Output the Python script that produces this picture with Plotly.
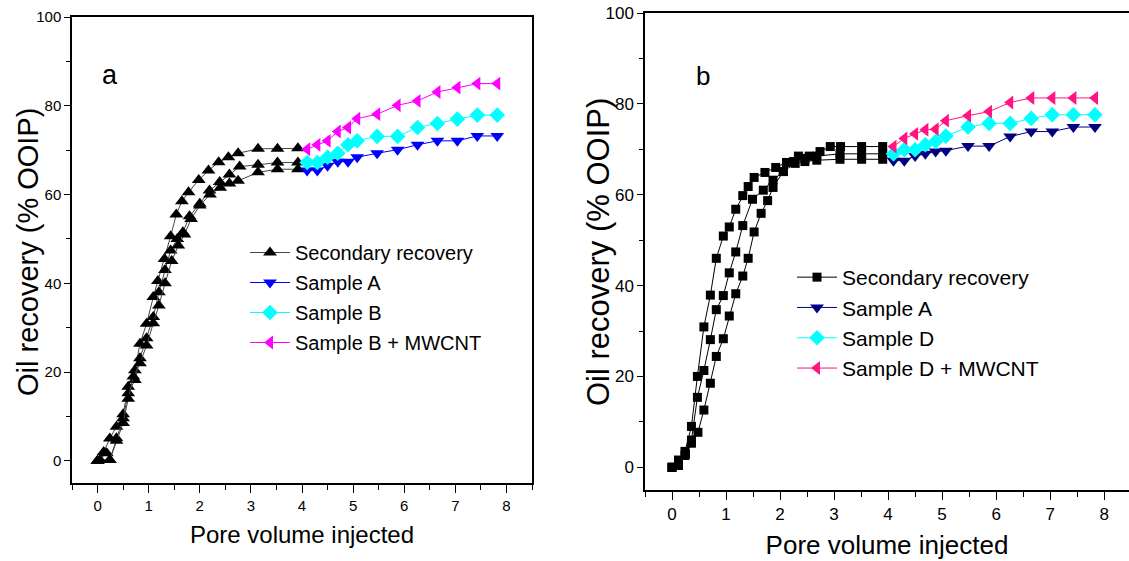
import plotly.graph_objects as go

# ---------------- Panel a data ----------------
a_sec1_x = [0, 0.12, 0.24, 0.37, 0.5, 0.6, 0.73, 0.83, 0.96, 1.09, 1.18, 1.31, 1.43, 1.54, 1.65, 1.78, 1.98, 2.17, 2.37, 2.56, 2.75, 3.14, 3.52, 3.92]
a_sec1_y = [0, 2, 5, 7.7, 10.5, 16.7, 20.4, 26.4, 30.9, 36.9, 40.5, 45.5, 50.6, 55.5, 58.5, 60.5, 63.3, 65.4, 67.3, 68.4, 69.3, 70.3, 70.3, 70.4]
a_sec2_x = [0, 0.18, 0.24, 0.37, 0.5, 0.6, 0.73, 0.83, 0.96, 1.09, 1.2, 1.32, 1.43, 1.56, 1.67, 1.8, 2.0, 2.19, 2.39, 2.58, 2.78, 3.14, 3.52, 3.92]
a_sec2_y = [0, 1.7, 0.2, 5.1, 9.6, 15.2, 18.2, 23.1, 27.6, 32.4, 38, 43, 47.4, 50, 51.5, 55.1, 57.9, 60.9, 62.8, 64.5, 66.3, 66.7, 67.2, 67.2]
a_sec3_x = [0, 0.05, 0.24, 0.37, 0.5, 0.6, 0.7, 0.83, 0.96, 1.09, 1.2, 1.32, 1.45, 1.58, 1.7, 1.83, 2.0, 2.2, 2.4, 2.58, 2.75, 3.14, 3.52, 3.92]
a_sec3_y = [0, 0.2, 0.2, 4.5, 8.5, 14, 19, 22, 26, 31, 35, 40, 45, 48.5, 51, 54.5, 57.5, 60, 61.5, 62.5, 63.1, 65, 65.7, 65.7]

a_samp_x = [4.1, 4.3, 4.5, 4.7, 4.9, 5.08, 5.47, 5.87, 6.26, 6.65, 7.04, 7.43, 7.82]
a_sampleA = [65.4, 65.4, 66.5, 67.4, 67.4, 68.4, 69.3, 70.1, 71.2, 72.1, 72.1, 73.2, 73.2]
a_sampleB = [67.2, 67.2, 68.4, 69.3, 71.2, 72.1, 73.1, 73.1, 75.1, 76.0, 77.0, 77.9, 77.9]
a_sampleB_mw = [70.2, 71.2, 72.1, 74.2, 75.1, 77.1, 78.1, 80.1, 81.1, 83.1, 84.1, 85.0, 85.0]

# ---------------- Panel b data ----------------
b_sec1_x = [0, 0.12, 0.24, 0.36, 0.47, 0.59, 0.71, 0.82, 0.95, 1.06, 1.18, 1.31, 1.41, 1.52, 1.72, 1.92, 2.12, 2.34, 2.54, 2.74, 2.93, 3.12, 3.51, 3.9]
b_sec1_y = [0, 1.6, 3.5, 9.0, 20.0, 30.9, 37.9, 46.0, 50.9, 52.9, 56.8, 59.8, 61.8, 63.8, 64.9, 66.0, 67.1, 68.5, 68.5, 69.5, 70.6, 70.6, 70.6, 70.6]
b_sec2_x = [0, 0.12, 0.24, 0.36, 0.47, 0.59, 0.71, 0.82, 0.95, 1.06, 1.18, 1.31, 1.49, 1.69, 1.87, 2.06, 2.25, 2.46, 2.68, 3.11, 3.51, 3.9]
b_sec2_y = [0, 0.7, 2.6, 6.0, 15.4, 21.3, 28.1, 34.7, 37.8, 42.8, 47.4, 53.2, 59.0, 61.0, 63.2, 65.1, 67.3, 68.0, 68.5, 69.0, 69.0, 69.0]
b_sec3_x = [0, 0.12, 0.25, 0.36, 0.48, 0.59, 0.71, 0.82, 0.95, 1.06, 1.18, 1.31, 1.41, 1.52, 1.65, 1.77, 1.87, 2.06, 2.28, 2.46, 2.68, 3.11, 3.51, 3.9]
b_sec3_y = [0, 0.4, 2.9, 5.3, 7.7, 12.6, 18.5, 24.4, 28.3, 33.3, 38.2, 42.1, 46.0, 51.8, 55.9, 58.7, 61.6, 65.1, 66.9, 67.3, 67.6, 67.8, 67.8, 67.8]

b_samp_x = [4.1, 4.3, 4.5, 4.69, 4.88, 5.07, 5.48, 5.87, 6.26, 6.65, 7.04, 7.43, 7.83]
b_sampleA = [67.5, 67.5, 68.5, 69.0, 69.5, 69.7, 70.7, 70.7, 72.8, 73.9, 73.9, 74.9, 74.9]
b_sampleD = [69.0, 69.9, 69.9, 71.0, 71.7, 72.9, 74.9, 75.7, 75.7, 76.8, 77.6, 77.6, 77.6]
b_sampleD_mw = [70.6, 72.4, 73.4, 74.3, 74.4, 76.3, 77.4, 78.3, 80.3, 81.3, 81.3, 81.3, 81.3]

x_ticks = [0, 1, 2, 3, 4, 5, 6, 7, 8]
y_ticks = [0, 20, 40, 60, 80, 100]

FONT = "Liberation Sans, Arial, sans-serif"
W, H = 1129, 561

fig = go.Figure()

def add(x, y, name, color, lcolor, symbol, size, xa, ya, legend, group, show=True):
    fig.add_trace(go.Scatter(
        x=x, y=y, name=name, mode="lines+markers",
        line=dict(color=lcolor, width=1),
        marker=dict(symbol=symbol, size=size, color=color, line=dict(width=0)),
        xaxis=xa, yaxis=ya, legend=legend, legendgroup=group, showlegend=show))

# panel a
add(a_sec1_x, a_sec1_y, "Secondary recovery", "black", "#444444", "triangle-up", 12, "x", "y", "legend", "a0")
add(a_sec2_x, a_sec2_y, "Secondary recovery", "black", "#444444", "triangle-up", 12, "x", "y", "legend", "a0", False)
add(a_sec3_x, a_sec3_y, "Secondary recovery", "black", "#444444", "triangle-up", 12, "x", "y", "legend", "a0", False)
add(a_samp_x, a_sampleA, "Sample A", "#0000FF", "#0000FF", "triangle-down", 12, "x", "y", "legend", "a1")
add(a_samp_x, a_sampleB, "Sample B", "#00FFFF", "#00FFFF", "diamond", 12, "x", "y", "legend", "a2")
add(a_samp_x, a_sampleB_mw, "Sample B + MWCNT", "#FF00FF", "#FF00FF", "triangle-left", 12, "x", "y", "legend", "a3")

# panel b
add(b_sec1_x, b_sec1_y, "Secondary recovery", "black", "black", "square", 9, "x2", "y2", "legend2", "b0")
add(b_sec2_x, b_sec2_y, "Secondary recovery", "black", "black", "square", 9, "x2", "y2", "legend2", "b0", False)
add(b_sec3_x, b_sec3_y, "Secondary recovery", "black", "black", "square", 9, "x2", "y2", "legend2", "b0", False)
add(b_samp_x, b_sampleA, "Sample A", "#000080", "#000080", "triangle-down", 12, "x2", "y2", "legend2", "b1")
add(b_samp_x, b_sampleD, "Sample D", "#00FFFF", "#00FFFF", "diamond", 12, "x2", "y2", "legend2", "b2")
add(b_samp_x, b_sampleD_mw, "Sample D + MWCNT", "#FF1482", "#FF1482", "triangle-left", 12, "x2", "y2", "legend2", "b3")

def xax(domain, rng, anchor, fsize, tsize, standoff):
    return dict(domain=domain, range=rng, anchor=anchor, tickvals=x_ticks,
                ticks="outside", ticklen=8, tickwidth=1.2, tickcolor="black",
                minor=dict(dtick=0.5, tick0=0, ticks="outside", ticklen=5, tickwidth=1.2, tickcolor="black"),
                showline=True, linecolor="black", linewidth=1.5, mirror=True,
                showgrid=False, zeroline=False, automargin=False,
                tickfont=dict(family=FONT, size=fsize, color="black"),
                title=dict(text="Pore volume injected", font=dict(family=FONT, size=tsize, color="black"), standoff=standoff))

def yax(domain, anchor, fsize, mirror):
    return dict(domain=domain, range=[-5, 100], anchor=anchor, tickvals=y_ticks,
                ticks="outside", ticklen=6, tickwidth=1.2, tickcolor="black",
                minor=dict(dtick=10, tick0=0, ticks="outside", ticklen=4, tickwidth=1.2, tickcolor="black"),
                showline=True, linecolor="black", linewidth=1.5, mirror=mirror,
                showgrid=False, zeroline=False, automargin=False,
                tickfont=dict(family=FONT, size=fsize, color="black"))

fig.update_layout(
    width=W, height=H, margin=dict(l=0, r=0, t=0, b=0),
    paper_bgcolor="white", plot_bgcolor="white",
    xaxis=xax([72 / W, 532 / W], [-0.5, 8.5], "y", 15, 24, 13),
    yaxis=yax([1 - 483 / H, 1 - 17 / H], "x", 15, True),
    xaxis2=xax([645 / W, 1.0], [-0.5, 8.46], "y2", 17, 26, 13),
    yaxis2=yax([1 - 490 / H, 1 - 13 / H], "x2", 17, False),
    legend=dict(x=245 / W, y=1 - 233 / H, xanchor="left", yanchor="top",
                bgcolor="rgba(0,0,0,0)", borderwidth=0, itemwidth=40,
                font=dict(family=FONT, size=20, color="black"), tracegroupgap=1),
    legend2=dict(x=792 / W, y=1 - 257 / H, xanchor="left", yanchor="top",
                 bgcolor="rgba(0,0,0,0)", borderwidth=0, itemwidth=40,
                 font=dict(family=FONT, size=21, color="black"), tracegroupgap=0),
    annotations=[
        dict(text="Oil recovery (% OOIP)", textangle=-90, x=28 / W, y=1 - 252 / H,
             xref="paper", yref="paper", xanchor="center", yanchor="middle", showarrow=False,
             font=dict(family=FONT, size=29, color="black")),
        dict(text="Oil recovery (% OOIP)", textangle=-90, x=598 / W, y=1 - 252 / H,
             xref="paper", yref="paper", xanchor="center", yanchor="middle", showarrow=False,
             font=dict(family=FONT, size=31, color="black")),
        dict(text="a", x=110 / W, y=1 - 75 / H, xref="paper", yref="paper",
             xanchor="center", yanchor="middle", showarrow=False,
             font=dict(family=FONT, size=27, color="black")),
        dict(text="b", x=703 / W, y=1 - 76 / H, xref="paper", yref="paper",
             xanchor="center", yanchor="middle", showarrow=False,
             font=dict(family=FONT, size=26, color="black")),
    ],
)

fig.write_html("out.html")
